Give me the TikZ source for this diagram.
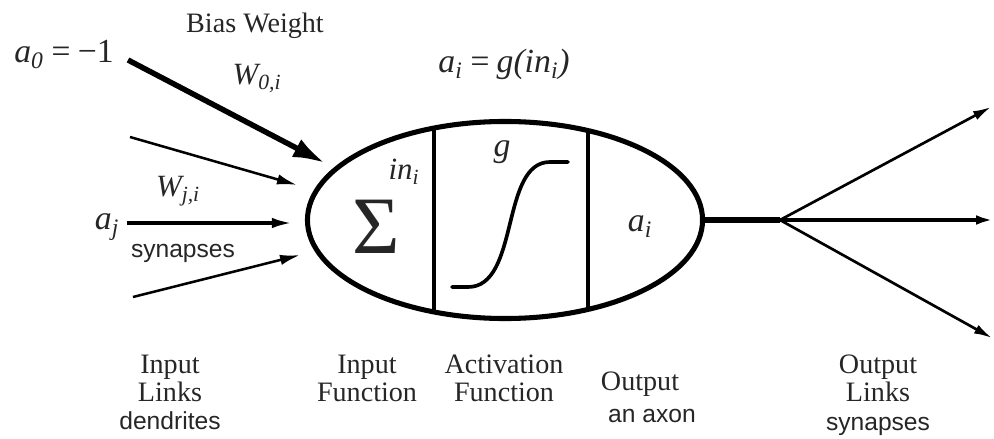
\documentclass[tikz,border=0pt]{standalone}
\usepackage{fontspec}
\setmainfont{Liberation Serif}
\newfontfamily\sansf{Liberation Sans}
\usetikzlibrary{arrows.meta,shapes.geometric}
\definecolor{txt}{HTML}{262626}
\newcommand{\mysb}[1]{\textsubscript{#1}}
\begin{document}
\begin{tikzpicture}[x=0.025cm,y=-0.025cm,
  lbl/.style={text=txt, inner sep=0, align=center, font=\fontsize{20}{19.5}\selectfont},
  slbl/.style={text=txt, inner sep=0, font=\sansf\fontsize{17.5}{19.5}\selectfont},
  mth/.style={text=txt, inner sep=0, font=\fontsize{24}{26}\selectfont\itshape},
  thinarrow/.style={line width=1.8pt, -{Latex[length=0.5cm,width=0.26cm]}},
  biasarrow/.style={line width=3.9pt, -{Latex[length=0.8cm,width=0.5cm]}},
  outarrow/.style={line width=1.9pt, -{Latex[length=0.45cm,width=0.24cm]}},
]
\useasboundingbox (0,0) rectangle (994,439);

% cell body
\node[ellipse, draw, line width=3.6pt, inner sep=0, minimum width=9.875cm, minimum height=4.925cm] (e) at (505,220) {};
\begin{scope}
  \clip (505,220) ellipse [x radius=197.5, y radius=98.5];
  \draw[line width=2.2pt] (434,100) -- (434,340);
  \draw[line width=2.2pt] (588,100) -- (588,340);
\end{scope}

% inside labels
\node[text=txt, inner sep=0, anchor=base, font=\fontsize{58}{60}\selectfont] (sigma) at (376,253) {Σ};
\node[mth, anchor=base, font=\fontsize{22}{24}\selectfont\itshape] (in) at (404,180) {in\mysb{i}};
\node[mth, anchor=base] (g) at (502,157) {g};
\node[mth, anchor=base] (ai) at (640,232) {a\mysb{i}};
\draw[line width=2.6pt, line cap=round] (452,287) -- (468,287) .. controls (520,287) and (500,162) .. (550,162) -- (568,162);

% top formula
\node[mth, anchor=base] (act) at (504,73) {a\mysb{i}\,=\,g(in\mysb{i})};

% inputs
\node[mth, anchor=base] (a0) at (64,63) {a\mysb{0}\,=\,\upshape −1};
\node[lbl, anchor=base] (bias) at (255,33) {Bias Weight};
\node[mth, anchor=base, font=\fontsize{22}{24}\selectfont\itshape] (w0) at (257,85) {W\mysb{0,i}};
\node[mth, anchor=base, font=\fontsize{22}{24}\selectfont\itshape] (wj) at (178,197) {W\mysb{j,i}};
\node[mth, anchor=base] (aj) at (107,230) {a\mysb{j}};
\node[slbl, anchor=base] (syn1) at (183,258) {synapses};

\coordinate (b0) at (128,60);
\coordinate (bt) at (325,163);
\coordinate (s2) at (130,137);
\coordinate (t2) at (297,185);
\coordinate (sj) at (127,223);
\coordinate (tj) at (292,223);
\coordinate (s4) at (133,297);
\coordinate (t4) at (300,255);
\draw[biasarrow] (b0) -- (bt);
\draw[thinarrow] (s2) -- (t2);
\draw[thinarrow, line width=2.4pt] (sj) -- (tj);
\draw[thinarrow] (s4) -- (t4);

% output
\coordinate (split) at (780,220);
\coordinate (o1) at (991,107);
\coordinate (o2) at (994,220);
\coordinate (o3) at (992,338);
\draw[line width=4.3pt] (e.east) -- (split);
\draw[outarrow] (split) -- (o1);
\draw[outarrow, line width=2.6pt] (split) -- (o2);
\draw[outarrow] (split) -- (o3);

% bottom labels
\node[lbl, anchor=north] (l1) at (170,355) {Input\\Links\\[1pt]{\sansf\fontsize{17.5}{19.5}\selectfont dendrites}};
\node[lbl, anchor=north] (l2) at (367,355) {Input\\Function};
\node[lbl, anchor=north] (l3) at (504,355) {Activation\\Function};
\node[lbl, anchor=base] (l4) at (640,390) {Output};
\node[slbl, anchor=base] (l5) at (652,422) {an axon};
\node[lbl, anchor=north] (l6) at (878,355) {Output\\Links\\[1pt]{\sansf\fontsize{17.5}{19.5}\selectfont synapses}};
\end{tikzpicture}
\end{document}
